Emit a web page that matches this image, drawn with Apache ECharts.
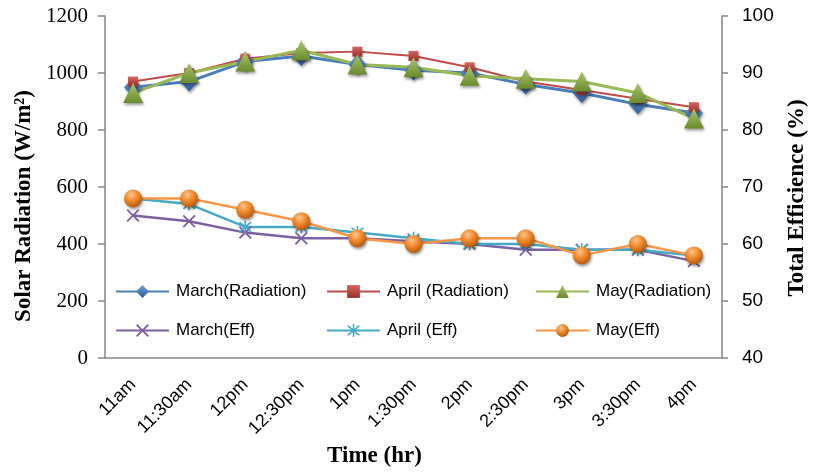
<!DOCTYPE html>
<html>
<head>
<meta charset="utf-8">
<script src="https://cdn.jsdelivr.net/npm/echarts@6/dist/echarts.min.js"></script>
<style>html,body{margin:0;padding:0;background:#fff;}#c{width:817px;height:473px;}</style>
</head>
<body>
<div id="c"></div>
<script>
var categories = ['11am','11:30am','12pm','12:30pm','1pm','1:30pm','2pm','2:30pm','3pm','3:30pm','4pm'];
var marchRad = [950,970,1040,1060,1030,1010,1000,960,930,890,860];
var aprilRad = [970,1000,1050,1070,1075,1060,1020,970,940,910,880];
var mayRad   = [930,1000,1040,1080,1030,1020,990,980,970,930,840];
var marchEff = [65,64,62,61,61,60.5,60,59,59,59,57];
var aprilEff = [68,67,63,63,62,61,60,60,59,59,58];
var mayEff   = [68,68,66,64,61,60,61,61,58,60,58];
var seriesNames = ['March(Radiation)','April (Radiation)','May(Radiation)','March(Eff)','April (Eff)','May(Eff)'];
var leftTicks = {min:0, max:1200, interval:200};
var rightTicks = {min:40, max:100, interval:10};

var xPath = 'path://M0,1 L1,0 L5,4 L9,0 L10,1 L6,5 L10,9 L9,10 L5,6 L1,10 L0,9 L4,5 Z';
var starPath = 'path://M0,1 L1,0 L5,4 L9,0 L10,1 L6,5 L10,9 L9,10 L5,6 L1,10 L0,9 L4,5 Z M4.4,-1 L5.6,-1 L5.6,11 L4.4,11 Z';

function lin(c1, c2){ return new echarts.graphic.LinearGradient(0,0,0,1,[{offset:0,color:c1},{offset:1,color:c2}]); }
var shadow = {shadowBlur:3, shadowColor:'rgba(0,0,0,0.4)', shadowOffsetX:1, shadowOffsetY:2};

var chart = echarts.init(document.getElementById('c'), null, {renderer:'canvas'});
var axisGray = '#868686';
var legendPos = [[115,283],[326,283],[535,283],[115,322],[326,322],[535,322]];
var legends = seriesNames.map(function(n,i){
  return {data:[n], left:legendPos[i][0], top:legendPos[i][1], padding:0, itemWidth:53, itemHeight:16, itemGap:0,
    selectedMode:false, textStyle:{fontFamily:'Liberation Sans', fontSize:17, color:'#000', padding:[0,0,0,2]}};
});

var option = {
  animation:false,
  backgroundColor:'#fff',
  grid:{left:105, right:88, top:16, bottom:115},
  legend: legends,
  xAxis:{type:'category', data:categories, boundaryGap:true,
    axisLine:{lineStyle:{color:axisGray, width:1.5}}, axisTick:{show:false},
    axisLabel:{rotate:45, interval:0, margin:24, fontFamily:'Liberation Sans', fontSize:18, color:'#000'},
    name:'Time (hr)', nameLocation:'middle', nameGap:87,
    nameTextStyle:{fontFamily:'Liberation Serif', fontWeight:'bold', fontSize:23, color:'#000', padding:[0,78,0,0]}},
  yAxis:[
    {type:'value', min:leftTicks.min, max:leftTicks.max, interval:leftTicks.interval, position:'left',
     splitLine:{show:false},
     axisLine:{show:true, lineStyle:{color:axisGray, width:1.5}},
     axisTick:{show:true, inside:false, length:7, lineStyle:{color:axisGray, width:1.5}},
     axisLabel:{margin:17, fontFamily:'Liberation Serif', fontSize:21, color:'#000', formatter:function(v){return String(v);}},
     name:'Solar Radiation (W/m²)', nameLocation:'middle', nameGap:64, nameRotate:90,
     nameTextStyle:{fontFamily:'Liberation Serif', fontWeight:'bold', fontSize:23, color:'#000', padding:[0,38,0,0]}},
    {type:'value', min:rightTicks.min, max:rightTicks.max, interval:rightTicks.interval, position:'right',
     splitLine:{show:false},
     axisLine:{show:true, lineStyle:{color:axisGray, width:1.5}},
     axisTick:{show:true, inside:false, length:6, lineStyle:{color:axisGray, width:1.5}},
     axisLabel:{margin:20, fontFamily:'Liberation Sans', fontSize:19, color:'#000'},
     name:'Total Efficience (%)', nameLocation:'middle', nameGap:64, nameRotate:90,
     nameTextStyle:{fontFamily:'Liberation Serif', fontWeight:'bold', fontSize:23, color:'#000', padding:[0,22,0,0]}}
  ],
  series:[
    {name:seriesNames[0], type:'line', yAxisIndex:0, data:marchRad, symbol:'diamond', symbolSize:[18,20],
     lineStyle:{color:'#4a7ebb', width:3}, itemStyle:Object.assign({color:lin('#6d9ddb','#2c5d98')}, shadow)},
    {name:seriesNames[1], type:'line', yAxisIndex:0, data:aprilRad, symbol:'rect', symbolSize:10,
     lineStyle:{color:'#be4b48', width:2}, itemStyle:Object.assign({color:lin('#d66561','#9a2f2c')}, shadow)},
    {name:seriesNames[2], type:'line', yAxisIndex:0, data:mayRad, symbol:'triangle', symbolSize:[20,20],
     lineStyle:{color:'#98b954', width:3}, itemStyle:Object.assign({color:lin('#a9c86c','#6a8a2e')}, shadow)},
    {name:seriesNames[3], type:'line', yAxisIndex:1, data:marchEff, symbol:xPath, symbolSize:13,
     lineStyle:{color:'#7d60a0', width:2.5}, itemStyle:{color:'#7d60a0'}},
    {name:seriesNames[4], type:'line', yAxisIndex:1, data:aprilEff, symbol:starPath, symbolSize:13,
     lineStyle:{color:'#46aac5', width:2.5}, itemStyle:{color:'#46aac5'}},
    {name:seriesNames[5], type:'line', yAxisIndex:1, data:mayEff, symbol:'circle', symbolSize:18,
     lineStyle:{color:'#f79646', width:2.5},
     itemStyle:Object.assign({color:new echarts.graphic.RadialGradient(0.4,0.3,0.7,[{offset:0,color:'#fbc48e'},{offset:0.5,color:'#f08a2c'},{offset:1,color:'#b85a0e'}])}, shadow)}
  ]
};
chart.setOption(option);
</script>
</body>
</html>
